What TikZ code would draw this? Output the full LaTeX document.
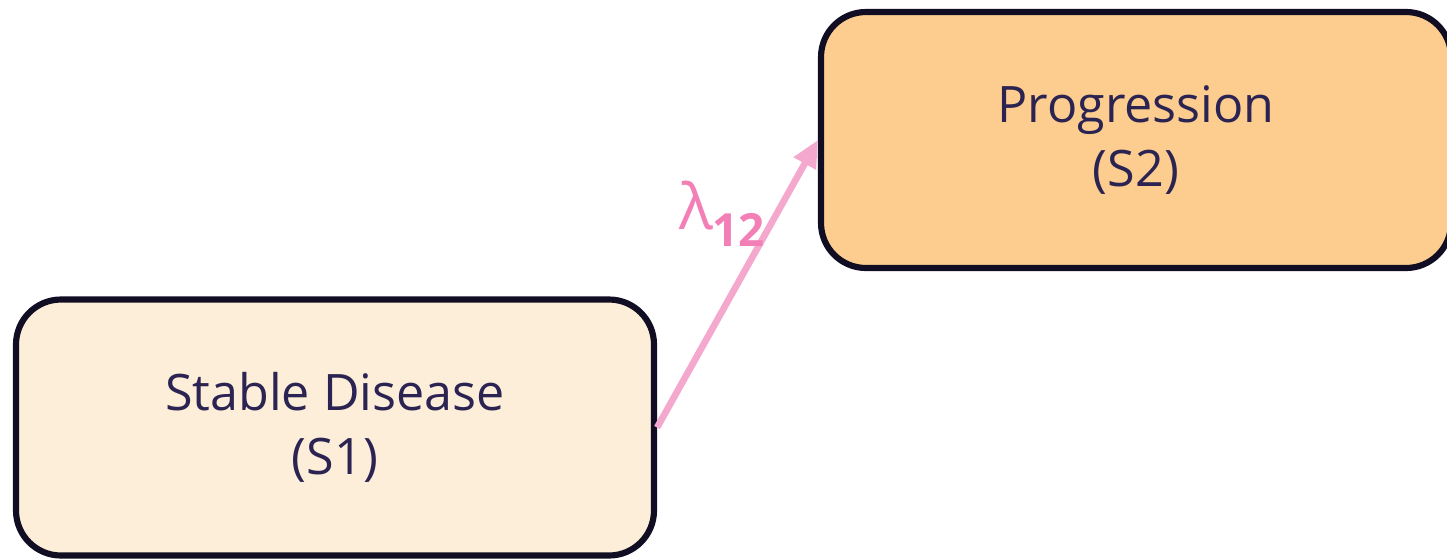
\documentclass[tikz,border=0pt]{standalone}
\usepackage{fontspec}
\setmainfont{Open Sans}
\usetikzlibrary{arrows.meta}
\definecolor{stateline}{HTML}{110E24}
\definecolor{statetext}{HTML}{2B2452}
\definecolor{stablefill}{HTML}{FDEED9}
\definecolor{progfill}{HTML}{FDCD8F}
\definecolor{rateline}{HTML}{F5A8CD}
\definecolor{ratetext}{HTML}{F27FB6}
\begin{document}
\begin{tikzpicture}[
  state/.style={draw=stateline, line width=1.75pt, rounded corners=0.45cm,
    minimum height=2.56cm, align=center, text=statetext,
    font=\fontsize{14.3}{18.2}\selectfont},
  rate/.style={draw=rateline, line width=1.9pt, -{Triangle[length=0.27cm,width=0.24cm]}}
]
\useasboundingbox (0,0) rectangle (14.47,5.59);
\node[state, fill=stablefill, minimum width=6.38cm] (s1) at (3.35,1.315) {Stable Disease\\(S1)};
\node[state, fill=progfill, minimum width=6.3cm] (s2) at (11.36,4.19) {Progression\\(S2)};
\draw[rate] (s1.east) -- (s2.west);
\node[text=ratetext, font=\fontsize{18}{20}\selectfont] (lam) at (7.22,3.45) {λ\raisebox{-0.5ex}{\fontsize{13}{15}\selectfont\bfseries 12}};
\end{tikzpicture}
\end{document}
